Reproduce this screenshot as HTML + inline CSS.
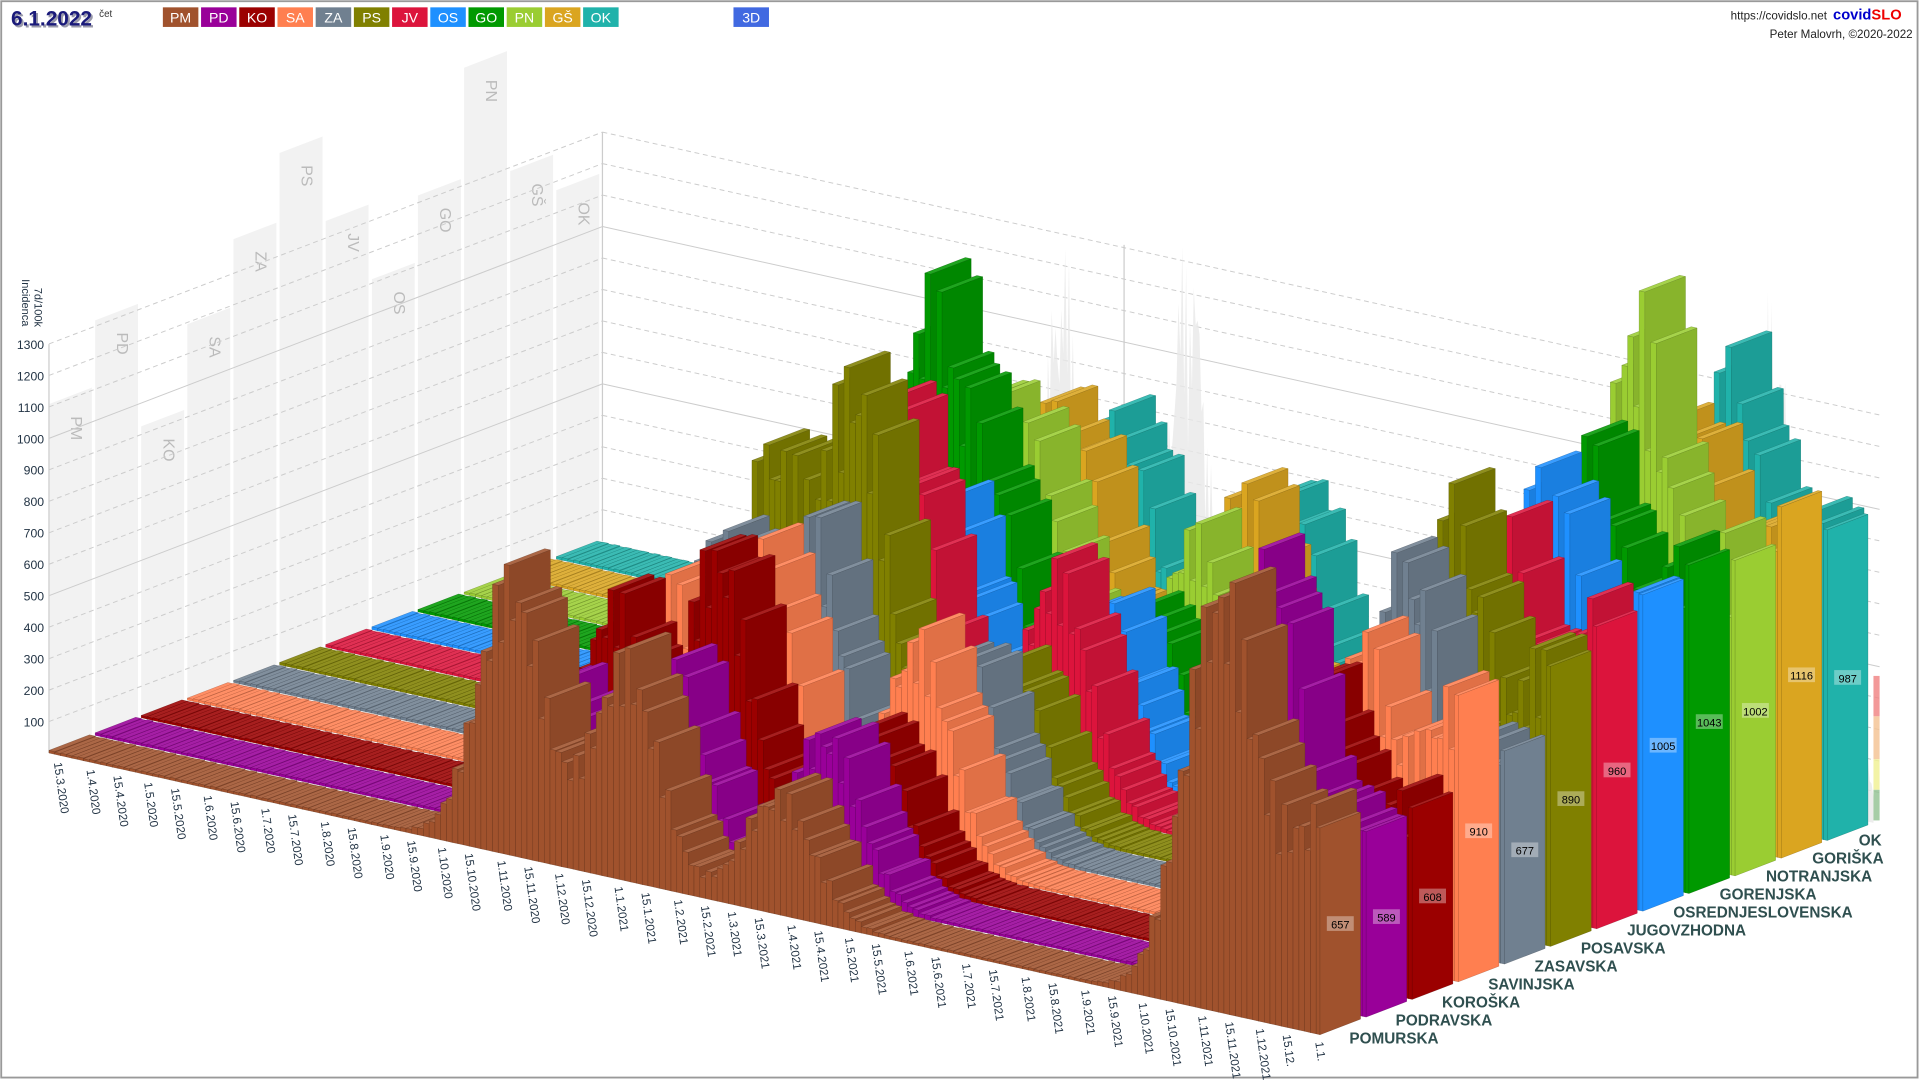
<!DOCTYPE html>
<html><head><meta charset="utf-8"><style>
html,body{margin:0;padding:0;background:#fff;}
svg{display:block;}
</style></head><body>
<svg id="s" width="1920" height="1080" viewBox="0 0 1568 882" xmlns="http://www.w3.org/2000/svg" font-family="Liberation Sans, DejaVu Sans, sans-serif"></svg>
<script>
(function(){
var S=document.getElementById('s');var out=[];
function P(a){return a.map(function(p){return p[0].toFixed(1)+','+p[1].toFixed(1)}).join(' ');}
var Tx=1038/662,Ty=230/662,Rx=452/12,Ry=-173/12,Hs=0.257;
function pt(t,r,h){return [40+t*Tx+r*Rx,615+t*Ty+r*Ry-h*Hs];}
function mix(c,m,f){var a=parseInt(c.slice(1),16),b=parseInt(m.slice(1),16);var r=[16,8,0].map(function(s){var x=(a>>s)&255,y=(b>>s)&255;return Math.round(x+(y-x)*f)});return 'rgb('+r.join(',')+')';}
out.push('<rect x="1" y="1" width="1565" height="879" fill="#fff" stroke="#999" stroke-width="1.5"/>');
var gh=[285,339,238,307,362,418,348,286,340,430,331,301],gl=['PM','PD','KO','SA','ZA','PS','JV','OS','GO','PN','GŠ','OK'];
for(var i=0;i<12;i++){var a=pt(0,i,0),b=pt(0,i+0.93,0);out.push('<polygon points="'+P([a,b,[b[0],b[1]-gh[i]],[a[0],a[1]-gh[i]]])+'" fill="#f2f2f2"/>');
var tx=a[0]+18,ty=a[1]-gh[i]+10;out.push('<text x="'+tx+'" y="'+ty+'" transform="rotate(90 '+tx+' '+ty+')" font-size="13" fill="#bbb">'+gl[i]+'</text>');}
for(var k=1;k<=13;k++){var y0=615-k*25.7,d=(k%5==0)?'':' stroke-dasharray="4,3"';
out.push('<line x1="40" y1="'+y0+'" x2="492" y2="'+(y0-173)+'" stroke="#ccc" stroke-width="0.8"'+d+'/>');
out.push('<line x1="492" y1="'+(y0-173)+'" x2="1535" y2="'+(y0-173+231)+'" stroke="#ccc" stroke-width="0.8"'+d+'/>');
out.push('<text x="36" y="'+(y0+4)+'" font-size="10" fill="#234" text-anchor="end">'+(k*100)+'</text>');}
out.push('<line x1="40" y1="615" x2="40" y2="281" stroke="#ccc"/><line x1="492" y1="442" x2="492" y2="108" stroke="#ccc"/><line x1="918" y1="200" x2="918" y2="560" stroke="#ccc"/>');
out.push('<text x="28" y="235" transform="rotate(90 28 235)" font-size="9" fill="#234">7d/100k</text><text x="18" y="228" transform="rotate(90 18 228)" font-size="9" fill="#234">Incidenca</text>');
function g(d,m,s){return Math.exp(-(d-m)*(d-m)/(2*s*s));}
var bw=[];for(var d=0;d<=662;d+=1){var v=1000*g(d,240,10)+1100*g(d,305,10)+400*g(d,380,14)+1300*g(d,610,10)+300*g(d,650,8);v*=0.5+0.5*Math.abs(Math.sin(d*1.7))+0.3*Math.abs(Math.sin(d*0.37));bw.push(pt(d,12,v));}
bw.push(pt(662,12,0));bw.unshift(pt(0,12,0));
out.push('<polygon points="'+P(bw)+'" fill="#e8e8e8" opacity="0.8"/>');
var pk=[pt(280,12,0),pt(400,12,0),pt(400,12,110),pt(280,12,110)];out.push('<polygon points="'+P(pk)+'" fill="#ff9a9a" opacity="0.7"/>');
var col=['#a0522d','#990099','#9b0000','#ff7f50','#708090','#808000','#dc143c','#1e90ff','#009900','#9acd32','#daa520','#20b2aa'];
var par=[[880,700,380,1350,657],[480,620,520,1350,589],[700,940,450,900,608],[700,850,700,1000,910],[800,900,600,1200,677],[1000,1300,500,1300,890],[700,1100,750,1200,960],[600,750,600,1300,1005],[1270,700,500,1300,1043],[800,700,700,1700,1002],[700,600,800,1300,1116],[500,600,700,1400,987]];
var step=3,W=0.88;
for(var r=11;r>=0;r--){var p=par[r],c=col[r],tc=mix(c,'#ffffff',0.12),dk=mix(c,'#000000',0.12),ln=mix(c,'#000000',0.35);
for(var t=0;t<662;t+=step){var t2=Math.min(t+step,662),m=t+step/2;
var h=8+p[0]*g(m,240+r*3,17)+p[1]*g(m,300,17)+p[2]*g(m,380,18)+p[3]*g(m,610,19)+(p[4]-8)*g(m,662,18);
h*=0.92+0.14*Math.sin(m*0.9+r);
if(t2>=662)h=p[4];
var a=pt(t,r,0),b=pt(t2,r,0),bt=pt(t2,r,h),at=pt(t,r,h),cb=pt(t2,r+W,0),ct=pt(t2,r+W,h),dt=pt(t,r+W,h);
out.push('<polygon points="'+P([at,bt,ct,dt])+'" fill="'+tc+'" stroke="'+ln+'" stroke-width="0.25"/>');
out.push('<polygon points="'+P([a,b,bt,at])+'" fill="'+c+'" stroke="'+ln+'" stroke-width="0.25"/>');
out.push('<polygon points="'+P([b,cb,ct,bt])+'" fill="'+(t2>=662?c:dk)+'" stroke="'+ln+'" stroke-width="0.25"/>');
if(t2>=662){var q=pt(662,r+W/2,h/2);out.push('<rect x="'+(q[0]-11)+'" y="'+(q[1]-6)+'" width="22" height="12" fill="rgba(255,255,255,0.35)"/><text x="'+q[0]+'" y="'+(q[1]+4)+'" font-size="9" text-anchor="middle" fill="#000">'+p[4]+'</text>');}
}}
var mo=[3,4,5,6,7,8,9,10,11,12,1,2,3,4,5,6,7,8,9,10,11,12,1];var base=new Date(2020,2,15);
var yr=2020;for(var i=0;i<mo.length;i++){if(i==10)yr=2021;if(i==22)yr=2022;[1,15].forEach(function(dd){var dt=new Date(yr,mo[i]-1,dd);var dy=Math.round((dt-base)/864e5);if(dy<0||dy>662)return;
var s=dd+'.'+mo[i]+'.'+(yr);if(yr==2021&&mo[i]==12&&dd==15)s='15.12.';if(yr==2022)s='1.1.';
var q=pt(dy,0,0);var x=q[0]+4,y=q[1]+8;out.push('<text x="'+x+'" y="'+y+'" transform="rotate(82 '+x+' '+y+')" font-size="9.5" fill="#234">'+s+'</text>');});}
var rn=['POMURSKA','PODRAVSKA','KOROŠKA','SAVINJSKA','ZASAVSKA','POSAVSKA','JUGOVZHODNA','OSREDNJESLOVENSKA','GORENJSKA','NOTRANJSKA','GORIŠKA','OK'];
for(var i=0;i<12;i++){var x=1102+i*37.8,y=852-i*14.7;if(i==11)x=1518;out.push('<text x="'+x+'" y="'+y+'" font-size="12.5" font-weight="bold" fill="#2f4f4f">'+rn[i]+'</text>');}
[['#f08080',552,585],['#f4c090',585,620],['#f0f090',620,645],['#90c090',645,670]].forEach(function(b){out.push('<rect x="1530" y="'+b[1]+'" width="5" height="'+(b[2]-b[1])+'" fill="'+b[0]+'" opacity="0.8"/>')});
out.push('<text x="9" y="21" font-size="17" font-weight="bold" fill="#99a" transform="translate(1.5,1.5)">6.1.2022</text><text x="9" y="21" font-size="17" font-weight="bold" fill="#1a1a7a">6.1.2022</text><text x="81" y="14" font-size="8" fill="#333">čet</text>');
for(var i=0;i<12;i++){var x=133+i*31.2;out.push('<rect x="'+x+'" y="6" width="29" height="16" fill="'+col[i]+'"/><text x="'+(x+14.5)+'" y="18.5" font-size="11.5" fill="#fff" text-anchor="middle">'+gl[i]+'</text>');}
out.push('<rect x="599" y="6" width="29" height="16" fill="#4169e1"/><text x="613.5" y="18.5" font-size="11.5" fill="#fff" text-anchor="middle">3D</text>');
out.push('<text x="1492" y="16" font-size="9.5" fill="#222" text-anchor="end">https://covidslo.net</text><text x="1497" y="16" font-size="12" font-weight="bold" fill="#0000cc">covid<tspan fill="#e00">SLO</tspan></text><text x="1562" y="31" font-size="9.5" fill="#222" text-anchor="end">Peter Malovrh, ©2020-2022</text>');
S.innerHTML=out.join('');
})();
</script>
</body></html>
